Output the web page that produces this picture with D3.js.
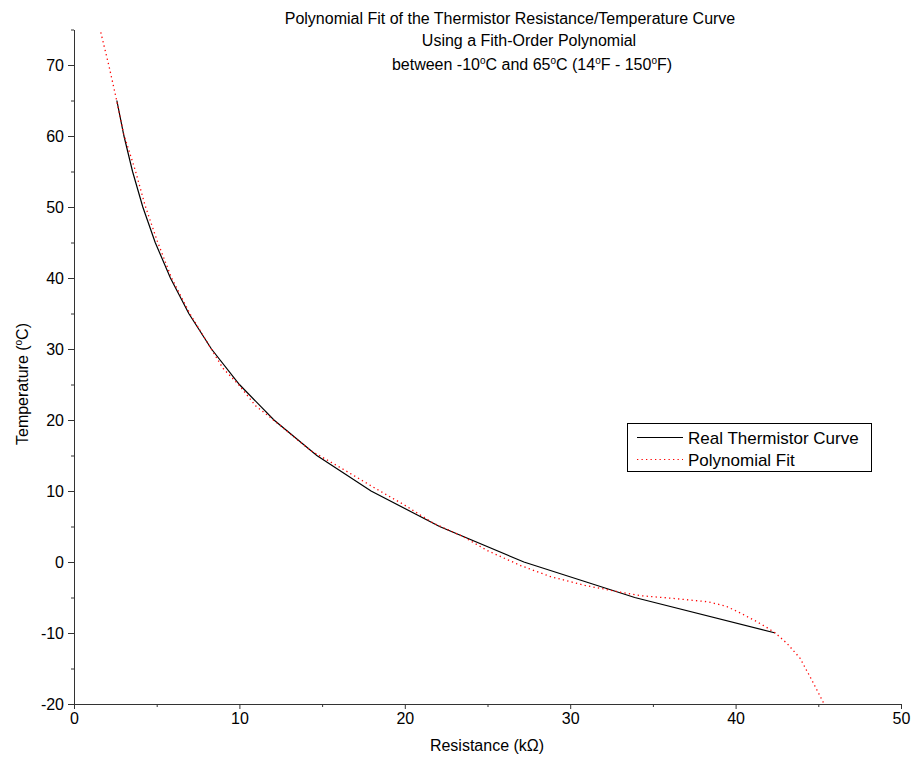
<!DOCTYPE html>
<html>
<head>
<meta charset="utf-8">
<script src="https://cdn.jsdelivr.net/npm/d3@7"></script>
<style>
  body { margin: 0; background: #fff; }
  text { font-family: Arial, "Liberation Sans", sans-serif; fill: #000; }
</style>
</head>
<body>
<svg id="chart" width="913" height="763"></svg>
<script>
// Real thermistor curve: resistance (kΩ) vs temperature (°C)
const realResistance = [2.59, 3.02, 3.54, 4.16, 4.91, 5.83, 6.94, 8.31, 10.0, 12.09, 14.68, 17.96, 22.1, 27.2, 33.9, 42.4];
const realTemperature = [65, 60, 55, 50, 45, 40, 35, 30, 25, 20, 15, 10, 5, 0, -5, -10];

// Polynomial fit curve
const fitResistance = [1.62, 2.12, 2.58, 3.0, 3.7, 4.3, 5.05, 5.9, 7.0, 8.3, 9.0, 9.95, 10.98, 11.9, 14.3, 16.1, 18.2, 20.0, 21.7, 23.5, 25.0, 27.0, 28.8, 30.9, 32.8, 34.3, 36.1, 38.3, 39.4, 40.3, 41.2, 41.8, 42.4, 43.1, 43.9, 44.6, 45.35];
const fitTemperature = [74.6, 69.8, 65.0, 60.3, 55.2, 50.2, 45.1, 40.0, 35.0, 30.0, 27.3, 25.0, 22.0, 20.3, 15.7, 13.3, 10.4, 8.0, 5.5, 3.6, 1.6, -0.5, -2.05, -3.3, -4.15, -4.75, -5.1, -5.6, -6.2, -7.2, -8.3, -9.1, -10.0, -11.45, -13.56, -16.6, -20.0];

const xMajorTicks = [0, 10, 20, 30, 40, 50];
const xMinorTicks = [5, 15, 25, 35, 45];
const yMajorTicks = [-20, -10, 0, 10, 20, 30, 40, 50, 60, 70];
const yMinorTicks = [-15, -5, 5, 15, 25, 35, 45, 55, 65, 75];

const seriesNames = ["Real Thermistor Curve", "Polynomial Fit"];

const svg = d3.select("#chart");
const x = d3.scaleLinear().domain([0, 50]).range([74, 901]);
const y = d3.scaleLinear().domain([-20, 75]).range([704, 29.5]);

const fmt = d => String(d);

// Axes
const axisColor = "#333";
function styleAxis(g) {
  g.selectAll("path").attr("stroke", axisColor).attr("stroke-width", 1);
  g.selectAll("line").attr("stroke", axisColor).attr("stroke-width", 1);
  g.selectAll("text").style("font-size", "16px").attr("fill", "#000")
    .style("font-family", "Arial, 'Liberation Sans', sans-serif");
}

const gxMinor = svg.append("g").attr("transform", `translate(0,${y(-20)})`)
  .call(d3.axisBottom(x).tickValues(xMinorTicks).tickSize(3).tickFormat(""));
gxMinor.select("path").remove();
styleAxis(gxMinor);
const gx = svg.append("g").attr("transform", `translate(0,${y(-20)})`)
  .call(d3.axisBottom(x).tickValues(xMajorTicks).tickSize(5).tickSizeOuter(0).tickPadding(4).tickFormat(fmt));
styleAxis(gx);

const gyMinor = svg.append("g").attr("transform", `translate(${x(0)},0)`)
  .call(d3.axisLeft(y).tickValues(yMinorTicks).tickSize(3).tickFormat(""));
gyMinor.select("path").remove();
styleAxis(gyMinor);
const gy = svg.append("g").attr("transform", `translate(${x(0)},0)`)
  .call(d3.axisLeft(y).tickValues(yMajorTicks).tickSize(6).tickSizeOuter(0).tickPadding(4).tickFormat(fmt));
styleAxis(gy);
gy.selectAll(".tick text").attr("dy", "0.35em");

// Lines
const line = d3.line().x(d => x(d[0])).y(d => y(d[1]));
const realData = realResistance.map((r, i) => [r, realTemperature[i]]);
const fitData = fitResistance.map((r, i) => [r, fitTemperature[i]]);

svg.append("path").datum(realData).attr("d", line)
  .attr("fill", "none").attr("stroke", "#000").attr("stroke-width", 1.2);
svg.append("path").datum(fitData).attr("d", line)
  .attr("fill", "none").attr("stroke", "#ff0000").attr("stroke-width", 1.3)
  .attr("stroke-dasharray", "1.3,3.2");

// Title
function addSupText(el, parts) {
  parts.forEach(p => {
    if (p.sup) {
      el.append("tspan").text(p.t).style("font-size", "10px").attr("dy", "-6");
    } else {
      const t = el.append("tspan").text(p.t);
      if (p.after) t.attr("dy", "6");
    }
  });
}
const title = svg.append("g").style("font-size", "16px");
title.append("text").attr("x", 510).attr("y", 24).attr("text-anchor", "middle")
  .text("Polynomial Fit of the Thermistor Resistance/Temperature Curve");
title.append("text").attr("x", 529).attr("y", 46).attr("text-anchor", "middle")
  .text("Using a Fith-Order Polynomial");
const t3 = title.append("text").attr("x", 532).attr("y", 70).attr("text-anchor", "middle");
addSupText(t3, [
  {t: "between -10"}, {t: "o", sup: true}, {t: "C and 65", after: true},
  {t: "o", sup: true}, {t: "C (14", after: true}, {t: "o", sup: true},
  {t: "F - 150", after: true}, {t: "o", sup: true}, {t: "F)", after: true}
]);

// Axis labels
svg.append("text").attr("x", 487).attr("y", 751).attr("text-anchor", "middle")
  .style("font-size", "16px").text("Resistance (k\u03A9)");
const yl = svg.append("text").attr("transform", "translate(28,384) rotate(-90)")
  .attr("text-anchor", "middle").style("font-size", "16px");
addSupText(yl, [{t: "Temperature ("}, {t: "o", sup: true}, {t: "C)", after: true}]);

// Legend
const lg = svg.append("g");
lg.append("rect").attr("x", 627.5).attr("y", 423.5).attr("width", 244).attr("height", 48)
  .attr("fill", "#fff").attr("stroke", "#000").attr("stroke-width", 1);
const lgStyles = [
  {stroke: "#000", dash: null, y: 437.5},
  {stroke: "#ff0000", dash: "1.3,3.2", y: 459.5}
];
seriesNames.forEach((name, i) => {
  const s = lgStyles[i];
  const ln = lg.append("line").attr("x1", 637).attr("x2", 683).attr("y1", s.y).attr("y2", s.y)
    .attr("stroke", s.stroke).attr("stroke-width", 1.2);
  if (s.dash) ln.attr("stroke-dasharray", s.dash);
  lg.append("text").attr("x", 688).attr("y", s.y + 6).style("font-size", "17px").text(name);
});
</script>
</body>
</html>
